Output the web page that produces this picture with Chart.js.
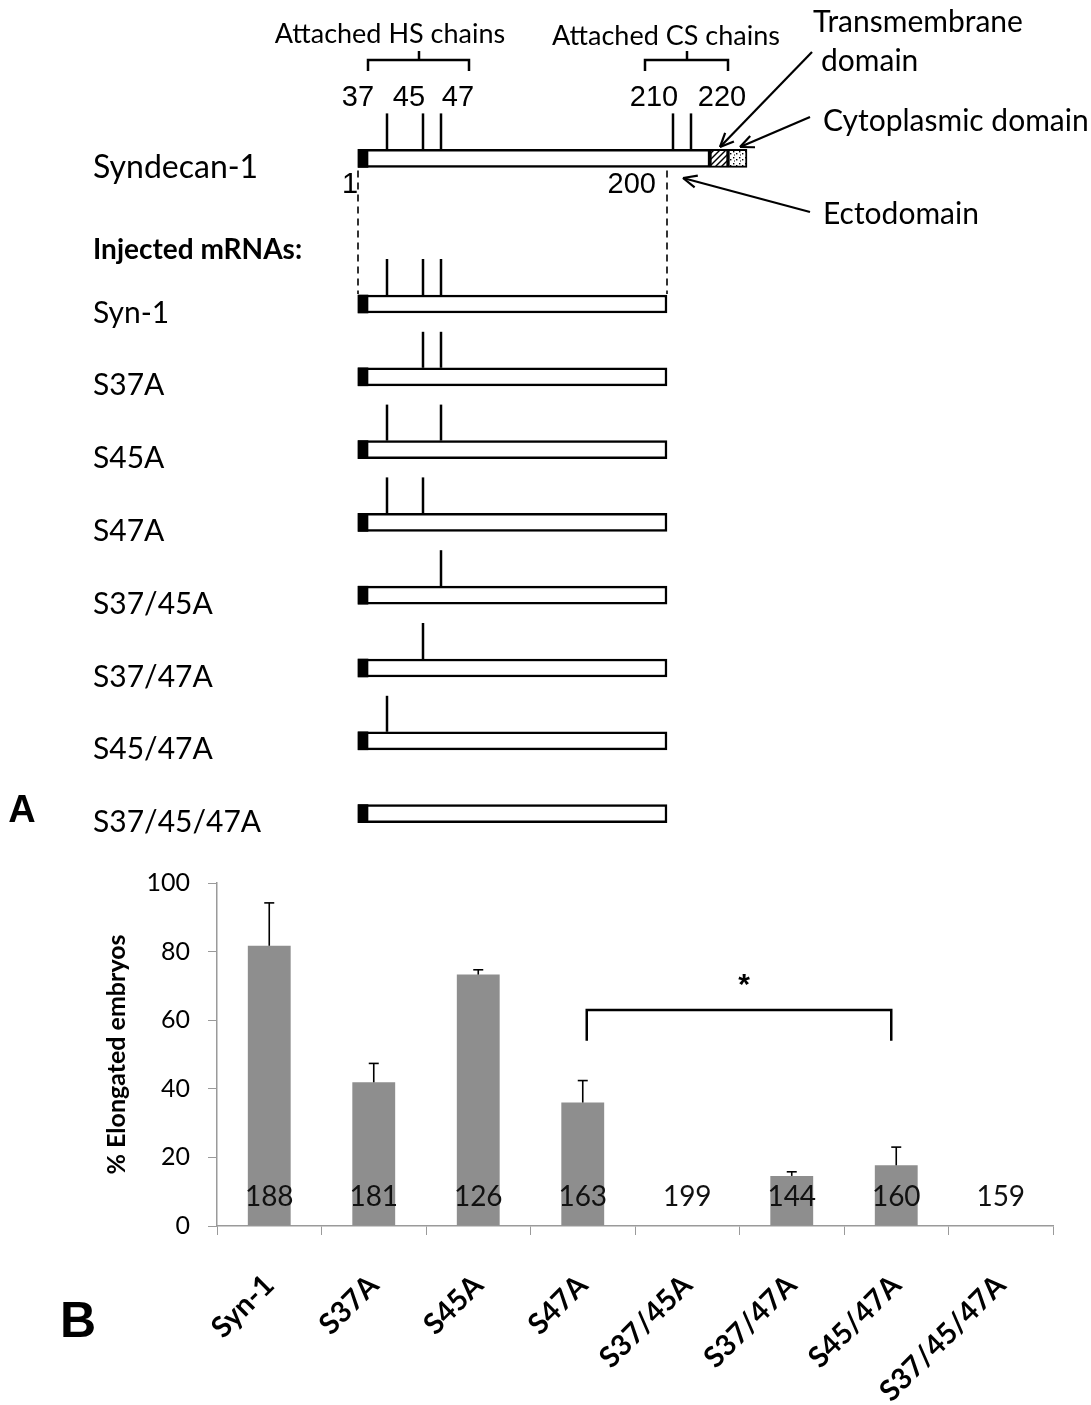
<!DOCTYPE html>
<html>
<head>
<meta charset="utf-8">
<title>Syndecan-1 HS attachment site mutants</title>
<script src="https://cdn.jsdelivr.net/npm/chart.js@4.4.0/dist/chart.umd.min.js"></script>
<style>
  html, body { margin: 0; padding: 0; background: #fff; }
  #wrap { position: relative; width: 1091px; height: 1405px; }
  #diagram { position: absolute; left: 0; top: 0; }
  #bars { position: absolute; left: 0; top: 850px; }
</style>
</head>
<body>
<div id="wrap">
  <canvas id="diagram" width="1091" height="850"></canvas>
  <canvas id="bars" width="1091" height="555"></canvas>
</div>
<script>
'use strict'

// Panel A: rows of the construct diagram and the GAG sites each construct keeps
const rowLabels = ['Syndecan-1', 'Injected mRNAs:', 'Syn-1', 'S37A', 'S45A', 'S47A', 'S37/45A', 'S37/47A', 'S45/47A', 'S37/45/47A'];
const hsSites = [37, 45, 47];
const csSites = [210, 220];
const keptSites = [
  [37, 45, 47, 210, 220],
  null,
  [37, 45, 47],
  [45, 47],
  [37, 47],
  [37, 45],
  [47],
  [45],
  [37],
  []
];

// Panel B: % elongated embryos per injected mRNA
const mutants = ['Syn-1', 'S37A', 'S45A', 'S47A', 'S37/45A', 'S37/47A', 'S45/47A', 'S37/45/47A'];
const elongated = [81.7, 41.9, 73.3, 36.0, 0, 14.6, 17.7, 0];
const errorUp = [12.5, 5.5, 1.4, 6.4, 0, 1.2, 5.3, 0];
const embryoCount = [188, 181, 126, 163, 199, 144, 160, 159];
const yTicks = [0, 20, 40, 60, 80, 100];

// the diagram is schematic, not to scale: where each landmark sits on the drawing axis
const schemX = { 1: 358, sp: 368, 37: 387, 45: 423, 47: 441, 200: 667, 210: 673, 220: 691, tm: 710, cyto: 728, end: 747 };
const siteNumX = { 37: 358, 45: 409, 47: 458, 210: 654, 220: 722 };

function seg(ctx, x1, y1, x2, y2) {
  ctx.beginPath();
  ctx.moveTo(x1, y1);
  ctx.lineTo(x2, y2);
  ctx.stroke();
}

function arrow(ctx, x1, y1, x2, y2) {
  seg(ctx, x1, y1, x2, y2);
  let a = Math.atan2(y2 - y1, x2 - x1);
  seg(ctx, x2, y2, x2 - 15 * Math.cos(a - 0.42), y2 - 15 * Math.sin(a - 0.42));
  seg(ctx, x2, y2, x2 - 15 * Math.cos(a + 0.42), y2 - 15 * Math.sin(a + 0.42));
}

function brace(ctx, x1, x2, xm, y) {
  ctx.beginPath();
  ctx.moveTo(x1, y + 11);
  ctx.lineTo(x1, y);
  ctx.lineTo(x2, y);
  ctx.lineTo(x2, y + 11);
  ctx.stroke();
  seg(ctx, xm, y, xm, y - 9);
}

function makePattern(draw) {
  let c = document.createElement('canvas');
  c.width = 6;
  c.height = 6;
  let g = c.getContext('2d');
  g.fillStyle = '#fff';
  g.fillRect(0, 0, 6, 6);
  draw(g);
  return g.createPattern(c, 'repeat');
}

let hatch = makePattern(g => {
  g.strokeStyle = '#000';
  g.lineWidth = 1.4;
  seg(g, -1, 7, 7, -1);
  seg(g, -1, 1, 1, -1);
  seg(g, 5, 7, 7, 5);
});
let dots = makePattern(g => {
  g.fillStyle = '#000';
  g.fillRect(1, 1, 1.4, 1.4);
  g.fillRect(4, 3, 1.4, 1.4);
  g.fillRect(2, 4.5, 1, 1);
});

// floating bars for each row
let signalBars = rowLabels.map((r, i) => keptSites[i] ? [schemX[1], schemX.sp] : null);
let ectoBars = rowLabels.map((r, i) => i === 0 ? [schemX[1], schemX.tm] : (keptSites[i] ? [schemX[1], schemX[200]] : null));
let tmBars = rowLabels.map((r, i) => i === 0 ? [schemX.tm, schemX.cyto] : null);
let cytoBars = rowLabels.map((r, i) => i === 0 ? [schemX.cyto, schemX.end] : null);

const diagramDecor = {
  id: 'diagramDecor',
  afterDatasetsDraw(chart) {
    const { ctx, scales: { x, y } } = chart;
    ctx.save();
    ctx.strokeStyle = '#000';
    ctx.fillStyle = '#000';

    // GAG attachment stalks above each bar
    ctx.lineWidth = 2.5;
    keptSites.forEach((sites, i) => {
      if (!sites) return;
      let top = y.getPixelForValue(i) - 9;
      sites.forEach(s => {
        let px = x.getPixelForValue(schemX[s]);
        seg(ctx, px, top, px, top - 36);
      });
    });

    // dashed guides from residue 1 and 200 down to the injected constructs
    ctx.lineWidth = 1.6;
    ctx.setLineDash([7, 5]);
    let gTop = y.getPixelForValue(0) + 12;
    let gBot = y.getPixelForValue(2) - 10;
    seg(ctx, x.getPixelForValue(schemX[1]), gTop, x.getPixelForValue(schemX[1]), gBot);
    seg(ctx, x.getPixelForValue(schemX[200]), gTop, x.getPixelForValue(schemX[200]), gBot);
    ctx.setLineDash([]);

    // braces over HS and CS sites
    ctx.lineWidth = 2.5;
    brace(ctx, 368, 469, 419, 60);
    brace(ctx, 645, 728, 687, 60);

    // arrows to the domains
    ctx.lineWidth = 2.2;
    arrow(ctx, 812, 52, 720, 147);
    arrow(ctx, 810, 117, 740, 147);
    arrow(ctx, 810, 212, 683, 178);

    ctx.textBaseline = 'middle';
    ctx.textAlign = 'center';
    ctx.font = '27px Lato';
    ctx.fillText('Attached HS chains', 390, 34);
    ctx.fillText('Attached CS chains', 666, 36);

    ctx.font = '29px "Liberation Sans"';
    hsSites.concat(csSites).forEach(s => ctx.fillText(String(s), siteNumX[s], 98));
    ctx.fillText('1', 350, 185);
    ctx.textAlign = 'right';
    ctx.fillText('200', 656, 185);

    ctx.textAlign = 'left';
    ctx.font = '30px Lato';
    ctx.fillText('Transmembrane', 813, 22);
    ctx.fillText('domain', 821, 61);
    ctx.fillText('Cytoplasmic domain', 823, 121);
    ctx.fillText('Ectodomain', 823, 214);

    // row names
    rowLabels.forEach((name, i) => {
      let py = y.getPixelForValue(i);
      if (i === 1) {
        ctx.font = 'bold 28px Lato';
        ctx.fillText(name, 93, py + 19);
      } else {
        ctx.font = i === 0 ? '32px Lato' : '30px Lato';
        ctx.fillText(name, 93, py + 9);
      }
    });

    ctx.font = 'bold 38px "Liberation Sans"';
    ctx.textAlign = 'center';
    ctx.fillText('A', 22, 812);
    ctx.restore();
  }
};

new Chart(document.getElementById('diagram'), {
  type: 'bar',
  data: {
    labels: rowLabels,
    datasets: [
      { data: signalBars, backgroundColor: '#000', borderWidth: 0 },
      { data: ectoBars, backgroundColor: '#fff', borderColor: '#000', borderWidth: 2.5, borderSkipped: false },
      { data: tmBars, backgroundColor: hatch, borderColor: '#000', borderWidth: 2, borderSkipped: false },
      { data: cytoBars, backgroundColor: dots, borderColor: '#000', borderWidth: 2, borderSkipped: false }
    ]
  },
  options: {
    indexAxis: 'y',
    responsive: false,
    devicePixelRatio: 1,
    animation: false,
    events: [],
    layout: { padding: { top: 122, bottom: -2, left: 0, right: 0 } },
    datasets: { bar: { barThickness: 18, grouped: false } },
    scales: {
      x: { type: 'linear', min: 0, max: 1091, display: false },
      y: { display: false }
    },
    plugins: { legend: { display: false }, tooltip: { enabled: false } }
  },
  plugins: [diagramDecor]
});

const barDecor = {
  id: 'barDecor',
  afterDatasetsDraw(chart) {
    const { ctx, scales: { x, y } } = chart;
    ctx.save();
    ctx.strokeStyle = '#000';
    ctx.fillStyle = '#000';

    // upper error bars
    ctx.lineWidth = 1.6;
    elongated.forEach((v, i) => {
      if (!errorUp[i]) return;
      let cx = x.getPixelForValue(i);
      let y0 = y.getPixelForValue(v);
      let y1 = y.getPixelForValue(v + errorUp[i]);
      seg(ctx, cx, y0, cx, y1);
      seg(ctx, cx - 5, y1, cx + 5, y1);
    });

    // number of embryos per group
    ctx.font = '28px Lato';
    ctx.textAlign = 'center';
    ctx.textBaseline = 'middle';
    ctx.fillStyle = '#111';
    embryoCount.forEach((n, i) => ctx.fillText(String(n), x.getPixelForValue(i), y.getPixelForValue(8.5)));

    // S47A vs S45/47A significance bracket
    ctx.lineWidth = 2.5;
    let bx1 = x.getPixelForValue(3) + 4;
    let bx2 = x.getPixelForValue(6) - 5;
    let by = y.getPixelForValue(63);
    let bEnd = y.getPixelForValue(54);
    ctx.beginPath();
    ctx.moveTo(bx1, bEnd);
    ctx.lineTo(bx1, by);
    ctx.lineTo(bx2, by);
    ctx.lineTo(bx2, bEnd);
    ctx.stroke();
    ctx.fillStyle = '#000';
    ctx.font = 'bold 30px "Liberation Sans"';
    ctx.fillText('*', (bx1 + bx2) / 2 + 5, y.getPixelForValue(70));

    ctx.font = 'bold 50px "Liberation Sans"';
    ctx.fillText('B', 78, 473);
    ctx.restore();
  }
};

new Chart(document.getElementById('bars'), {
  type: 'bar',
  data: {
    labels: mutants,
    datasets: [{
      data: elongated,
      backgroundColor: '#8e8e8e',
      borderWidth: 0,
      categoryPercentage: 1,
      barPercentage: 0.41
    }]
  },
  options: {
    responsive: false,
    devicePixelRatio: 1,
    animation: false,
    events: [],
    layout: { padding: { top: 12, left: 100, right: 38, bottom: 0 } },
    scales: {
      x: {
        grid: { drawOnChartArea: false, offset: true, tickLength: 9, color: '#9a9a9a' },
        border: { color: '#9a9a9a', width: 1.5 },
        ticks: {
          autoSkip: false,
          maxRotation: 45,
          minRotation: 45,
          padding: 33,
          color: '#000',
          font: { family: 'Lato', size: 29, weight: 'bold' }
        },
        afterFit(s) { s.height = 179; }
      },
      y: {
        min: 0,
        max: 100,
        afterBuildTicks(s) { s.ticks = yTicks.map(v => ({ value: v })); },
        grid: { drawOnChartArea: false, tickLength: 9, color: '#9a9a9a' },
        border: { color: '#9a9a9a', width: 1.5 },
        ticks: { padding: 18, color: '#000', font: { family: 'Lato', size: 25 } },
        title: {
          display: true,
          text: '% Elongated embryos',
          color: '#000',
          padding: { top: 2, bottom: 0 },
          font: { family: 'Lato', size: 25, weight: 'bold' }
        },
        afterFit(s) { s.width = 117; }
      }
    },
    plugins: { legend: { display: false }, tooltip: { enabled: false } }
  },
  plugins: [barDecor]
});
</script>
</body>
</html>
